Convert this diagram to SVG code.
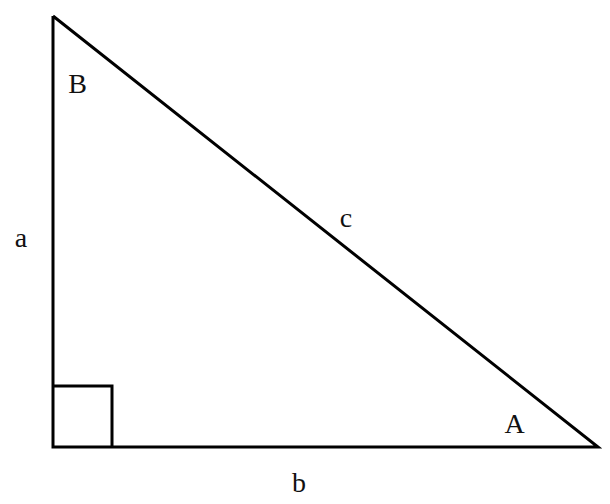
<svg xmlns="http://www.w3.org/2000/svg" width="610" height="504" viewBox="0 0 610 504">
<style>
.edge{fill:none;stroke:#000;stroke-width:3;stroke-linejoin:miter}
.lbl{font-family:"Liberation Serif","Times New Roman",serif;font-size:28px;fill:#111}
</style>
<rect width="610" height="504" fill="#fff"/>
<g id="connectors">
<polyline class="edge" points="53,16 53,447 598,447 53,16"/>
<polyline class="edge" points="53,386 112,386 112,447"/>
</g>
<g id="vertex-B"><text class="lbl" x="77.5" y="93" text-anchor="middle">B</text></g>
<g id="vertex-A"><text class="lbl" x="514.5" y="433" text-anchor="middle">A</text></g>
<g id="side-c"><text class="lbl" x="346" y="227" text-anchor="middle">c</text></g>
<g id="side-a"><text class="lbl" x="21" y="247" text-anchor="middle">a</text></g>
<g id="side-b"><text class="lbl" x="299" y="492" text-anchor="middle">b</text></g>
</svg>
